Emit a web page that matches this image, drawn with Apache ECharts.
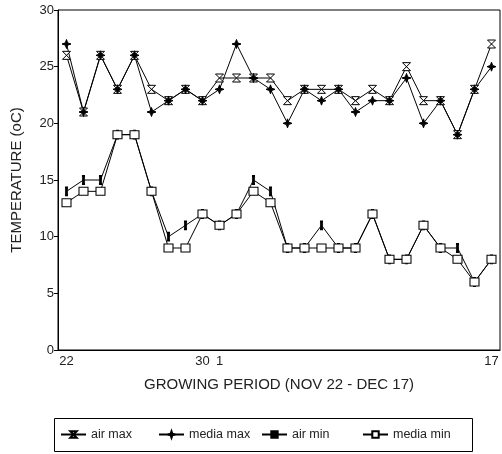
<!DOCTYPE html>
<html>
<head>
<meta charset="utf-8">
<script src="https://cdn.jsdelivr.net/npm/echarts@6/dist/echarts.min.js"></script>
<style>html,body{margin:0;padding:0;background:#fff}#c{width:502px;height:454px}</style>
</head>
<body>
<div id="c"></div>
<script>
const days = ['22','23','24','25','26','27','28','29','30','1','2','3','4','5','6','7','8','9','10','11','12','13','14','15','16','17'];
const tickLabels = ['22','30','1','17'];
const seriesNames = ['air max', 'media max', 'air min', 'media min'];
const airMax   = [26,21,26,23,26,23,22,23,22,24,24,24,24,22,23,23,23,22,23,22,25,22,22,19,23,27];
const mediaMax = [27,21,26,23,26,21,22,23,22,23,27,24,23,20,23,22,23,21,22,22,24,20,22,19,23,25];
const airMin   = [14,15,15,19,19,14,10,11,12,11,12,15,14,9,9,11,9,9,12,8,8,11,9,9,6,8];
const mediaMin = [13,14,14,19,19,14,9,9,12,11,12,14,13,9,9,9,9,9,12,8,8,11,9,8,6,8];
const yTicks = [0,5,10,15,20,25,30];

const FONT = "'Liberation Sans', Arial, Helvetica, sans-serif";
const hourglass = 'path://M0,0 L10,0 L0,10 L10,10 Z';
const star = 'path://M5,0 L6.3,3.7 L10,5 L6.3,6.3 L5,10 L3.7,6.3 L0,5 L3.7,3.7 Z';

function mk(name, data, symbol, size, fill) {
  return {
    name, type: 'line', data, symbol, symbolSize: size,
    lineStyle: {color: '#000', width: 1},
    itemStyle: {color: fill, borderColor: '#000', borderWidth: 1},
    emphasis: {disabled: true},
    animation: false, z: 3
  };
}

const legendLefts = [60, 158, 261, 362];
const legends = seriesNames.map((n, i) => ({
  left: legendLefts[i], top: 428, padding: 0,
  itemWidth: 25, itemHeight: 8,
  textStyle: {fontSize: 12.5, color: '#222', fontFamily: FONT},
  data: [n]
}));

const chart = echarts.init(document.getElementById('c'));
chart.setOption({
  animation: false,
  textStyle: {fontFamily: FONT},
  grid: {left: 58, right: 2, top: 10, bottom: 104, show: true, borderColor: '#000', borderWidth: 1},
  xAxis: {
    type: 'category', data: days, boundaryGap: true,
    name: 'GROWING PERIOD (NOV 22 - DEC 17)', nameLocation: 'middle', nameGap: 27,
    nameTextStyle: {fontSize: 15, color: '#222', fontFamily: FONT},
    axisLine: {lineStyle: {color: '#000', width: 1}},
    axisTick: {interval: 0, alignWithLabel: true, length: 4, lineStyle: {color: '#000'}},
    axisLabel: {interval: (i, v) => tickLabels.includes(v), fontSize: 13, color: '#222', margin: 5, fontFamily: FONT},
    splitLine: {show: false}
  },
  yAxis: {
    type: 'value', min: yTicks[0], max: yTicks[yTicks.length - 1], interval: 5,
    name: 'TEMPERATURE (oC)', nameLocation: 'middle', nameGap: 34, nameRotate: 90,
    nameTextStyle: {fontSize: 15, color: '#222', fontFamily: FONT},
    axisLine: {show: true, lineStyle: {color: '#000', width: 1}},
    axisTick: {show: true, length: 4, lineStyle: {color: '#000'}},
    axisLabel: {fontSize: 13, color: '#222', margin: 4, fontFamily: FONT},
    splitLine: {show: false}
  },
  legend: legends,
  graphic: [{
    type: 'rect',
    shape: {x: 54.5, y: 418.5, width: 418, height: 33},
    style: {fill: 'none', stroke: '#000', lineWidth: 1}
  }],
  series: [
    mk(seriesNames[0], airMax, hourglass, [8, 8], '#fff'),
    mk(seriesNames[1], mediaMax, star, [9, 9], '#000'),
    mk(seriesNames[2], airMin, 'rect', [2.5, 8], '#000'),
    mk(seriesNames[3], mediaMin, 'rect', [9, 8], '#fff')
  ]
});
</script>
</body>
</html>
